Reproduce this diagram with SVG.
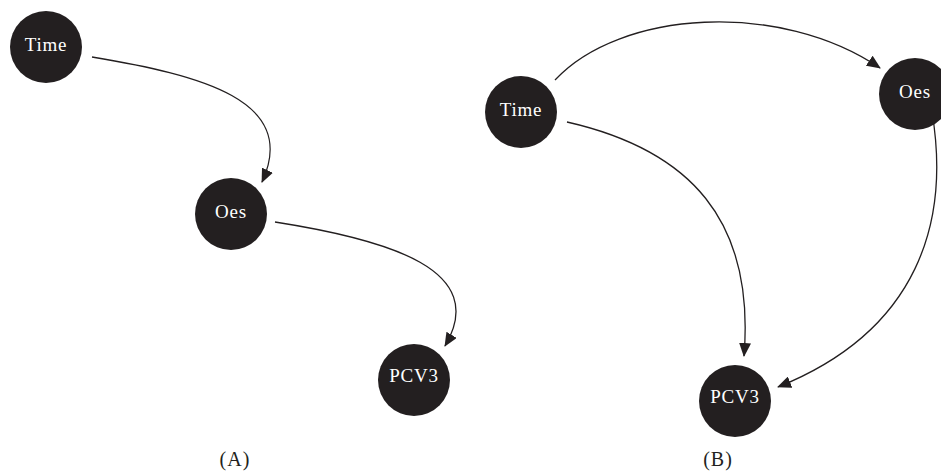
<svg xmlns="http://www.w3.org/2000/svg" width="941" height="474" viewBox="0 0 941 474">
<style>
.node circle{fill:#231f20}
.node text{fill:#fff;font-family:"Liberation Serif","DejaVu Serif",serif;font-size:19px;letter-spacing:0.8px;text-anchor:middle}
.edge{fill:none;stroke:#231f20;stroke-width:1.3;marker-end:url(#arr)}
.cap{fill:#231f20;font-family:"Liberation Serif","DejaVu Serif",serif;font-size:20px;letter-spacing:1px;text-anchor:middle}
</style>
<defs>
<marker id="arr" markerUnits="userSpaceOnUse" markerWidth="14" markerHeight="12" viewBox="0 0 14 12" refX="13" refY="6" orient="auto">
<path d="M0,0 L14,6 L0,12 Z" fill="#231f20"/>
</marker>
</defs>
<rect width="941" height="474" fill="#fff"/>
<g id="connectors">
<path class="edge" d="M92,57 C200,75 300,100 262,182"/>
<path class="edge" d="M275,222 C390,240 490,270 445,346"/>
<path class="edge" d="M555,80 C620,10 780,0 880,68"/>
<path class="edge" d="M567,122 C690,150 755,220 744,356"/>
<path class="edge" d="M932,112 C950,220 920,330 778,387"/>
</g>
<g id="a-time" class="node"><circle cx="46" cy="47" r="36"/><text x="46" y="51">Time</text></g>
<g id="a-oes" class="node"><circle cx="231" cy="214" r="36"/><text x="231" y="218">Oes</text></g>
<g id="a-pcv3" class="node"><circle cx="414" cy="380" r="36"/><text x="414" y="382">PCV3</text></g>
<g id="b-time" class="node"><circle cx="521" cy="112" r="36"/><text x="521" y="116">Time</text></g>
<g id="b-oes" class="node"><circle cx="915" cy="94" r="36"/><text x="915" y="98">Oes</text></g>
<g id="b-pcv3" class="node"><circle cx="735" cy="401" r="36"/><text x="735" y="403">PCV3</text></g>
<text class="cap" x="235" y="466">(A)</text>
<text class="cap" x="718" y="466">(B)</text>
</svg>
